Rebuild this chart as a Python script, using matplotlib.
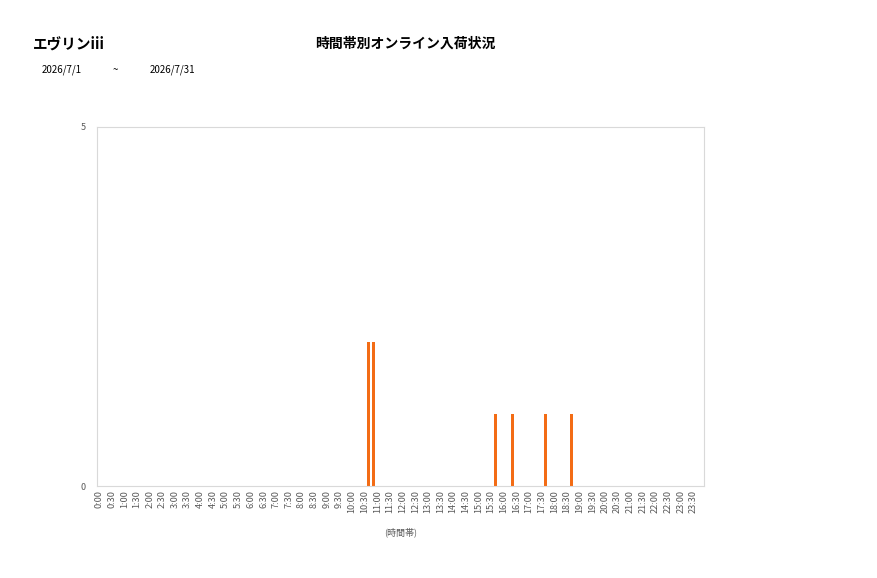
import numpy as np
import matplotlib
matplotlib.use("Agg")
import matplotlib.pyplot as plt

plt.rcParams['font.family'] = ['Noto Sans CJK JP', 'DejaVu Sans']

# 10-minute slots over the day, labelled every 30 minutes
slot_labels = [f"{h}:{m:02d}" for h in range(24) for m in range(0, 60, 10)]
arrival_times = ['10:40', '10:50', '15:40', '16:20', '17:40', '18:40']
arrival_counts = [2, 2, 1, 1, 1, 1]

store_name = "エヴリンiii"
chart_title = "時間帯別オンライン入荷状況"
date_from = "2026/7/1"
date_to = "2026/7/31"

counts = np.zeros(len(slot_labels))
for t, c in zip(arrival_times, arrival_counts):
    counts[slot_labels.index(t)] = c

fig = plt.figure(figsize=(8.77, 5.78), dpi=100)
ax = fig.add_axes([97/877, 1-486/578, (704-97)/877, (486-127)/578])

x = np.arange(len(slot_labels))
ax.bar(x, counts, width=0.68, color='#F36C15')

ax.set_xlim(-0.5, len(slot_labels) - 0.5)
ax.set_ylim(0, 5)
ax.set_yticks([0, 5])
tick_pos = x[::3]
ax.set_xticks(tick_pos)
ax.set_xticklabels([slot_labels[i] for i in tick_pos], rotation=90, fontsize=6.6, color='#595959')
ax.tick_params(axis='both', length=0)
ax.tick_params(axis='x', pad=3)
ax.tick_params(axis='y', labelsize=6.5, labelcolor='#595959', pad=8)
for s in ax.spines.values():
    s.set_color('#D9D9D9')
    s.set_linewidth(0.8)

ax.set_xlabel("(時間帯)", fontsize=6.5, color='#595959', labelpad=10)

fig.text(33/877, 1-44/578, store_name, fontsize=10.5, fontweight='bold', va='center', ha='left')
fig.text(405/877, 1-44/578, chart_title, fontsize=10, fontweight='bold', va='center', ha='center')
fig.text(42/877, 1-70/578, date_from, fontsize=7, va='center', ha='left')
fig.text(115/877, 1-70/578, "~", fontsize=7, va='center', ha='center')
fig.text(150/877, 1-70/578, date_to, fontsize=7, va='center', ha='left')

fig.savefig("out.png", dpi=100)
